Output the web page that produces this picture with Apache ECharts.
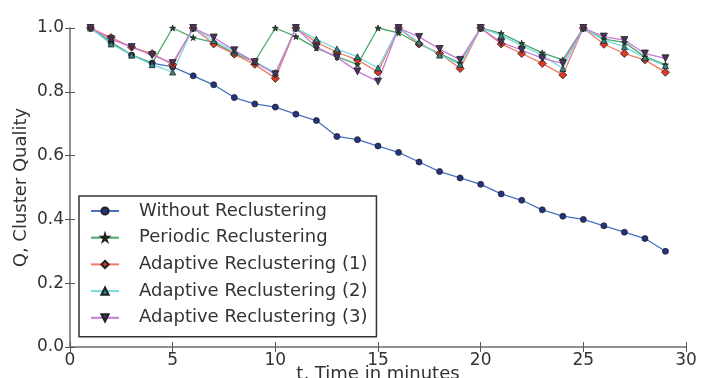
<!DOCTYPE html>
<html>
<head>
<meta charset="utf-8">
<style>
  html, body { margin: 0; padding: 0; background: #fff; }
  #chart { width: 713px; height: 378px; }
</style>
<script src="https://cdn.jsdelivr.net/npm/echarts@6/dist/echarts.min.js"></script>
</head>
<body>
<div id="chart"></div>
<script>
// minutes 1..29
const minutes = [1,2,3,4,5,6,7,8,9,10,11,12,13,14,15,16,17,18,19,20,21,22,23,24,25,26,27,28,29]

const withoutRecl = [1.0,0.955,0.915,0.89,0.878,0.85,0.822,0.782,0.762,0.752,0.73,0.71,0.66,0.65,0.63,
  0.61,0.58,0.55,0.53,0.51,0.48,0.46,0.43,0.41,0.40,0.38,0.36,0.34,0.30]
const periodic = [1.0,0.955,0.915,0.89,1.0,0.97,0.955,0.92,0.895,1.0,0.973,0.937,0.91,0.886,1.0,
  0.985,0.95,0.92,0.89,1.0,0.983,0.952,0.922,0.90,1.0,0.965,0.955,0.91,0.885]
const adaptive1 = [1.0,0.97,0.94,0.92,0.885,1.0,0.95,0.918,0.886,0.842,1.0,0.955,0.924,0.90,0.862,
  1.0,0.95,0.92,0.873,1.0,0.95,0.92,0.889,0.853,1.0,0.949,0.92,0.90,0.861]
const adaptive2 = [1.0,0.95,0.915,0.885,0.862,1.0,0.96,0.925,0.895,0.86,1.0,0.965,0.934,0.91,0.875,
  1.0,0.955,0.915,0.886,1.0,0.977,0.945,0.915,0.873,1.0,0.962,0.941,0.907,0.882]
const adaptive3 = [1.0,0.965,0.94,0.915,0.89,1.0,0.97,0.93,0.893,0.855,1.0,0.94,0.908,0.864,0.832,
  1.0,0.972,0.934,0.90,1.0,0.955,0.931,0.905,0.889,1.0,0.973,0.962,0.92,0.905]

const seriesNames = ['Without Reclustering','Periodic Reclustering','Adaptive Reclustering (1)',
  'Adaptive Reclustering (2)','Adaptive Reclustering (3)']

const FONT = 'DejaVu Sans'
const STAR = 'path://M50,0 L61,35 L98,35 L68,57 L79,91 L50,70 L21,91 L32,57 L2,35 L39,35 Z'
const TRI_DOWN = 'path://M0,0 L10,0 L5,9 Z'

function pairs(vals) { return minutes.map((m, i) => [m, vals[i]]) }

function lineSeries(name, vals, lineColor, markColor, symbol, size) {
  return {
    name, type: 'line', data: pairs(vals),
    symbol, symbolSize: size, showAllSymbol: true,
    lineStyle: { color: lineColor, width: 1.3 },
    itemStyle: { color: markColor, borderColor: '#222', borderWidth: 0.8 },
    emphasis: { disabled: true },
    animation: false,
  }
}

const chart = echarts.init(document.getElementById('chart'), null, { renderer: 'canvas' })

const axisText = { color: '#333', fontSize: 17, fontFamily: FONT }
const nameText = { color: '#333', fontSize: 18, fontFamily: FONT }
const spine = { lineStyle: { color: '#888', width: 1.5 } }
const tick = { inside: true, length: 5, lineStyle: { color: '#555' } }

chart.setOption({
  backgroundColor: '#fff',
  animation: false,
  grid: { left: 70, right: 27, top: 28, bottom: 31, outerBoundsMode: 'none', containLabel: false },
  legend: {
    orient: 'vertical', left: 79, top: 196,
    padding: [6, 9, 10, 11], itemGap: 8.7, itemWidth: 28, itemHeight: 9,
    borderColor: '#333', borderWidth: 1.5, backgroundColor: '#fff',
    textStyle: { color: '#333', fontSize: 18, fontFamily: FONT, padding: [0, 0, 0, 15] },
    data: seriesNames,
  },
  xAxis: [{
    type: 'value', min: 0, max: 30, interval: 5,
    name: 't, Time in minutes', nameLocation: 'middle', nameGap: 18, nameMoveOverlap: false,
    nameTextStyle: nameText,
    axisLine: spine, axisTick: tick,
    axisLabel: { ...axisText, margin: 5 },
    splitLine: { show: false },
  }, {
    type: 'value', min: 0, max: 30, interval: 5, position: 'top',
    axisLine: spine, axisTick: tick,
    axisLabel: { show: false }, splitLine: { show: false },
  }],
  yAxis: [{
    type: 'value', min: 0, max: 1, interval: 0.2,
    name: 'Q, Cluster Quality', nameLocation: 'middle', nameGap: 40, nameMoveOverlap: false,
    nameTextStyle: nameText,
    axisLine: spine, axisTick: tick,
    axisLabel: { ...axisText, margin: 6, formatter: v => v.toFixed(1) },
    splitLine: { show: false },
  }, {
    type: 'value', min: 0, max: 1, interval: 0.2, position: 'right',
    axisLine: spine, axisTick: tick,
    axisLabel: { show: false }, splitLine: { show: false },
  }],
  series: [
    lineSeries(seriesNames[0], withoutRecl, '#4a70c0', '#243380', 'circle', 6),
    lineSeries(seriesNames[1], periodic, '#4aa86a', '#1d4a2a', STAR, 6),
    lineSeries(seriesNames[2], adaptive1, '#f07a68', '#e03a22', 'diamond', 8),
    lineSeries(seriesNames[3], adaptive2, '#78dcdc', '#2e8a88', 'triangle', 6),
    lineSeries(seriesNames[4], adaptive3, '#c77ad8', '#4a3360', TRI_DOWN, 7),
  ],
})
</script>
</body>
</html>
